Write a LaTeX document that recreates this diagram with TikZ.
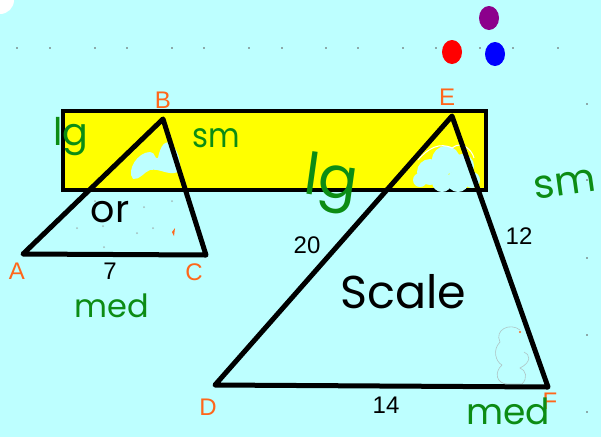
\documentclass[tikz,border=0pt]{standalone}
\usepackage{fontspec}
\setmainfont{Liberation Sans}
\newfontfamily\handfont{Poppins}
\definecolor{bgcyan}{RGB}{189,255,255}
\definecolor{hlyellow}{RGB}{255,255,0}
\definecolor{penGreen}{RGB}{12,140,20}
\definecolor{lblOrange}{RGB}{255,102,26}
\definecolor{dotGray}{RGB}{140,170,170}
\definecolor{purp}{RGB}{140,0,140}
\tikzset{
  edge/.style={line width=5pt, line join=round, line cap=round, black},
  vlabel/.style={text=lblOrange, inner sep=0pt, font=\fontsize{24}{26}\selectfont},
  numlabel/.style={text=black, inner sep=0pt, font=\fontsize{24}{26}\selectfont},
  greenword/.style={text=penGreen, inner sep=0pt},
  blackword/.style={text=black, inner sep=0pt},
  griddot/.style={fill=dotGray},
  blob/.style={fill=bgcyan, draw=none},
}
\begin{document}
\begin{tikzpicture}[x=1pt,y=-1pt]
\fill[bgcyan] (0,0) rectangle (601,437);
\useasboundingbox (0,0) rectangle (601,437);
% white corner
\fill[white] (0,0) circle (14);
% grid dots top row
\foreach \x in {16,49,94,126,171,203,248,281,325,357,402,435,479,512,557}
  \fill[griddot] (\x,47) rectangle ++(2,2);
% grid dots right column
\foreach \y in {103,179,257,334,411}
  \fill[griddot] (586,\y) rectangle ++(2,2);
% coloured dots
\fill[purp] (489,18) ellipse (10 and 12);
\fill[red] (452,52) ellipse (10 and 12);
\fill[blue] (495,54) ellipse (10 and 12);
% yellow band
\filldraw[fill=hlyellow, draw=black, line width=4.5pt] (63,111) rectangle (486,190);
% cyan blobs
\fill[blob] (133,179) .. controls (126,170) and (138,152) .. (150,152)
  .. controls (156,152) and (154,160) .. (158,158)
  .. controls (160,146) and (166,138) .. (172,145)
  .. controls (180,152) and (182,168) .. (178,172)
  .. controls (168,176) and (160,168) .. (150,170)
  .. controls (144,172) and (140,180) .. (133,179) -- cycle;
\fill[blob] (430,172) circle (13);
\fill[blob] (446,160) circle (14);
\fill[blob] (462,166) circle (12);
\fill[blob] (442,182) circle (10);
\fill[blob] (458,181) circle (11);
\fill[blob] (472,180) circle (8);
\fill[blob] (420,180) circle (7);
\draw[white, line width=1pt] (418,160) .. controls (428,148) and (440,142) .. (452,148)
  .. controls (462,140) and (472,150) .. (474,158);
% faint cloud outline near F
\draw[dotGray!70, line width=0.6pt] (520,330) .. controls (510,322) and (494,330) .. (500,342)
  .. controls (492,350) and (496,362) .. (502,365)
  .. controls (494,372) and (496,384) .. (508,384)
  -- (522,384) .. controls (528,378) and (526,370) .. (520,368)
  .. controls (532,362) and (530,354) .. (524,352);
% faint grid dots inside ABC
\foreach \p in {(95,201),(144,207),(172,201),(77,228),(103,226),(137,233),(153,228),(104,247)}
  \fill[dotGray!80] \p circle (1);
% orange specks
\fill[lblOrange] (172,232) -- (175,228) -- (174,236) -- cycle;
\fill[lblOrange] (520,332) circle (1.2);
% triangle ABC
\coordinate (pA) at (23,254);
\coordinate (pB) at (163,119);
\coordinate (pC) at (206,255);
\draw[edge] (pA) -- (pB) -- (pC) -- cycle;
% triangle DEF
\coordinate (pD) at (215,385);
\coordinate (pE) at (452,116);
\coordinate (pF) at (548,387);
\draw[edge] (pD) -- (pE) -- (pF) -- cycle;
% vertex labels
\node[vlabel] (lA) at (17,271) {A};
\node[vlabel] (lB) at (163,100) {B};
\node[vlabel] (lC) at (194,272) {C};
\node[vlabel] (lD) at (208,407) {D};
\node[vlabel] (lE) at (447,97) {E};
\node[vlabel] (lF) at (550,401) {F};
% side lengths
\node[numlabel] (n7) at (110,271) {7};
\node[numlabel] (n20) at (307,245) {20};
\node[numlabel] (n12) at (519,236) {12};
\node[numlabel] (n14) at (386,405) {14};
% handwritten words
\node[greenword, font=\handfont\fontsize{38}{40}\selectfont] (w1) at (71,137) {lg};
\node[greenword, font=\handfont\fontsize{34}{36}\selectfont, xscale=0.9] (w2) at (216,138) {sm};
\node[greenword, font=\handfont\fontsize{58}{60}\selectfont, rotate=-8] (w3) at (331,184) {lg};
\node[greenword, font=\handfont\fontsize{40}{42}\selectfont, rotate=8] (w4) at (565,184) {sm};
\node[greenword, font=\handfont\fontsize{32}{34}\selectfont] (w5) at (112,306) {med};
\node[greenword, font=\handfont\fontsize{36}{38}\selectfont] (w6) at (508,411) {med};
\node[blackword, font=\handfont\fontsize{38}{40}\selectfont] (w7) at (110,212) {or};
\node[blackword, font=\handfont\fontsize{46}{48}\selectfont] (w8) at (403,292) {Scale};
\end{tikzpicture}
\end{document}
